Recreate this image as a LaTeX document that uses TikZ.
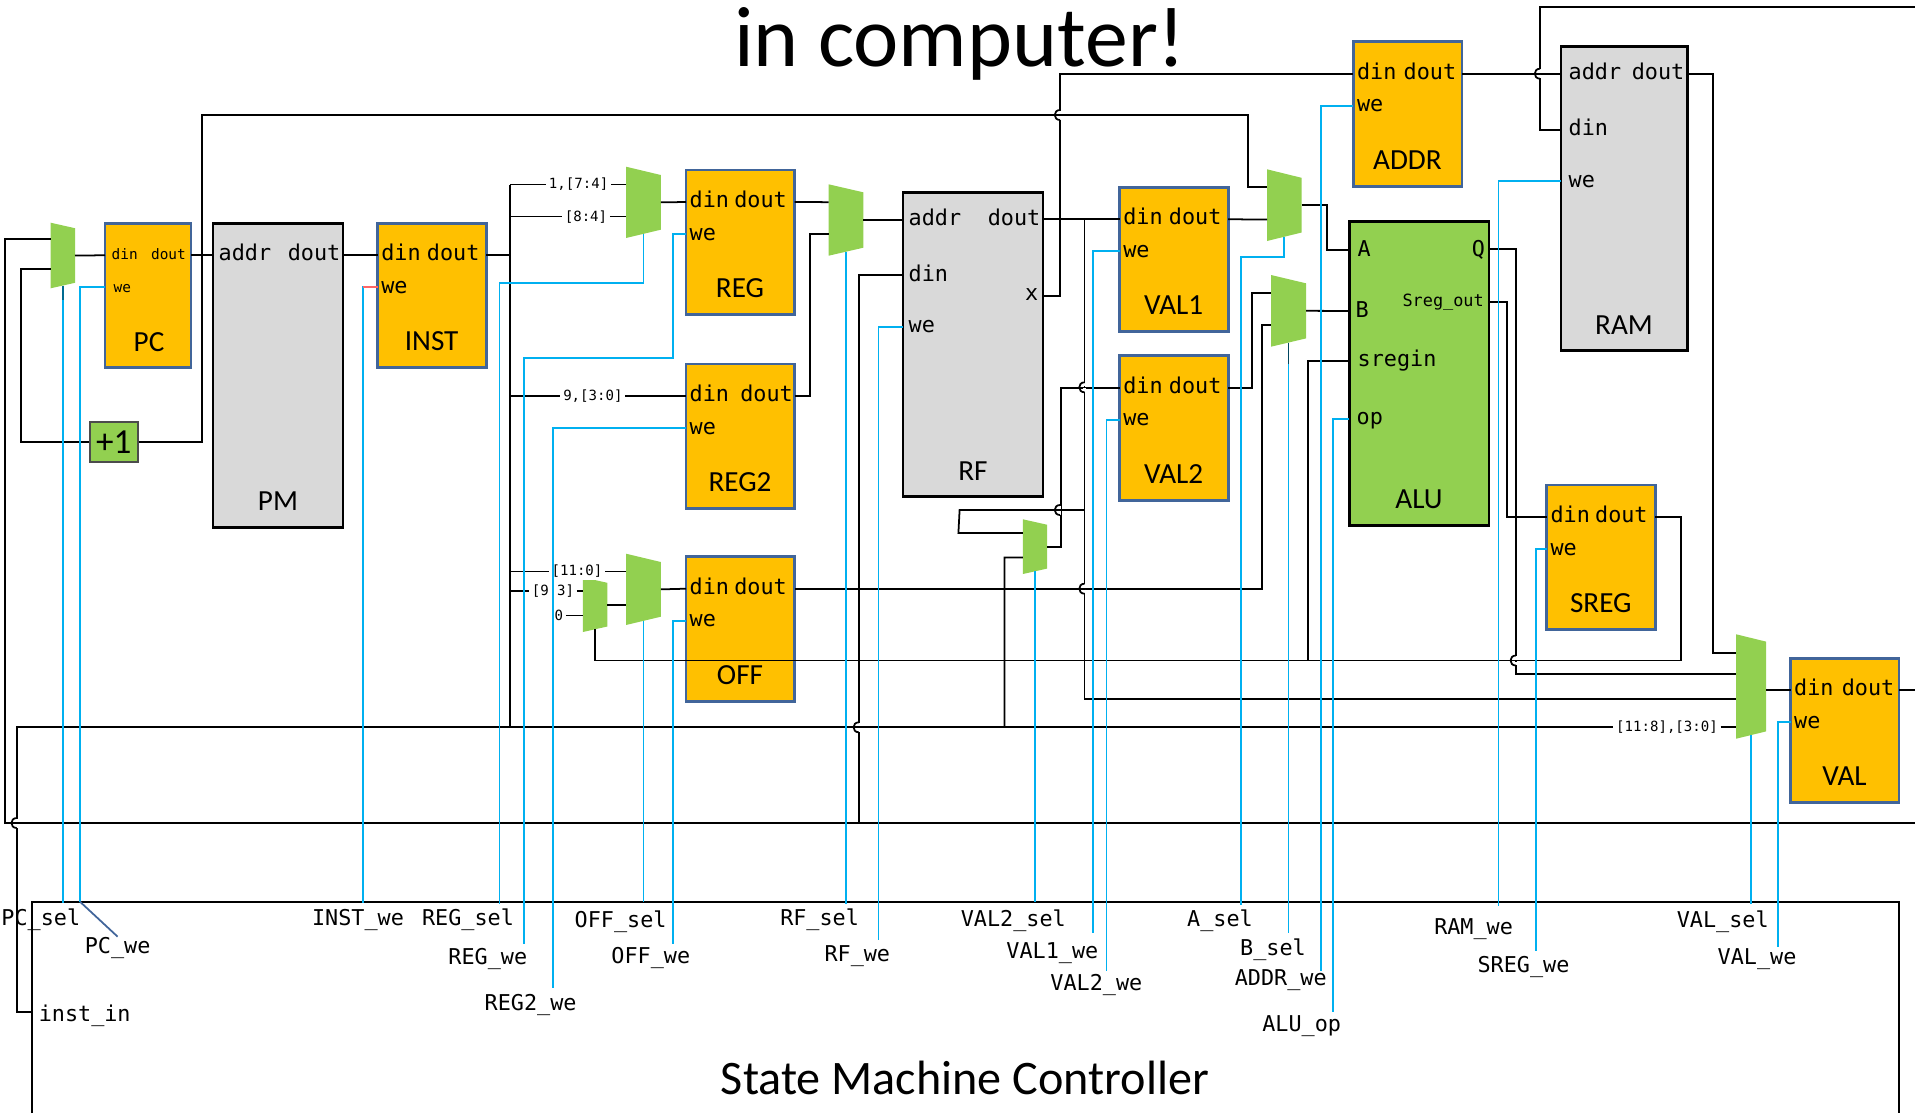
\documentclass[tikz,border=0pt]{standalone}
\usepackage{fontspec}
\setmainfont{Carlito}
\setmonofont{DejaVu Sans Mono}
\definecolor{regfill}{HTML}{FFC000}
\definecolor{regedge}{HTML}{41659A}
\definecolor{muxfill}{HTML}{92D050}
\definecolor{memfill}{HTML}{D9D9D9}
\definecolor{ctrlcyan}{HTML}{00B0F0}
\tikzset{
    wire/.style={black, line width=0.5pt},
    ctrlwire/.style={ctrlcyan, line width=0.5pt},
    regbox/.style={draw=regedge, fill=regfill, line width=0.8pt, anchor=north west,
        inner sep=0, outer sep=0, minimum width=10.85mm, minimum height=14.45mm},
    membox/.style={draw=black, fill=memfill, line width=0.8pt, anchor=north west,
        inner sep=0, outer sep=0, minimum height=30.44mm},
    pintext/.style={inner sep=0, font=\ttfamily\fontsize{6.2}{7}\selectfont},
    smalltext/.style={inner sep=0, font=\ttfamily\fontsize{4.1}{5}\selectfont},
    bittext/.style={fill=white, inner sep=0.6pt, font=\ttfamily\fontsize{4}{5}\selectfont},
    sigtext/.style={inner sep=0, font=\ttfamily\fontsize{6.2}{7}\selectfont},
    boxtitle/.style={inner sep=0, font=\fontsize{8.3}{9}\selectfont},
}
\begin{document}
\begin{tikzpicture}[x=0.1mm, y=-0.1mm]
    \useasboundingbox (0,0) rectangle (1915,1113);

    \node[anchor=base, inner sep=0, font=\fontsize{24.4}{26}\selectfont] (headline) at (960,66) {in computer!};

    % controller outline, its bottom edge is off the page
    \draw[wire] (32.2,1113) -- (32.2,901.7) -- (1898.7,901.7) -- (1898.7,1113);
    \node[anchor=base, inner sep=0, font=\fontsize{13.7}{15}\selectfont] (ctrl) at (965,1094) {State Machine Controller};

    % orange registers: name/left/top/title/dout gap
    \foreach \rname/\rx/\ry/\rtitle/\rgap in {inst/377.6/223.3/INST/6, reg/686/170/REG/7, reg2/686/364/REG2/1,
            off/686/556.7/OFF/7, val1/1119.6/187.3/VAL1/6, val2/1119.6/355.7/VAL2/6,
            addr/1353.4/41.7/ADDR/5, sreg/1546.8/485/SREG/7, val/1790.5/658.3/VAL/4} {
        \node[regbox] (\rname) at (\rx,\ry) {};
        \node[boxtitle] (\rname-title) at ({\rx+54},{\ry+118}) {\rtitle};
        \coordinate (\rname-din) at (\rx,{\ry+32});
        \coordinate (\rname-we) at (\rx,{\ry+64});
        \coordinate (\rname-dout) at ({\rx+108.5},{\ry+32});
        \node[pintext, anchor=base west] (\rname-dinl) at ({\rx+3},{\ry+37.5}) {din};
        \node[pintext, anchor=base west] (\rname-wel) at ({\rx+3},{\ry+70}) {we};
        \node[pintext, anchor=base east] (\rname-doutl) at ({\rx+108.5-\rgap},{\ry+37.5}) {dout};
    }

    % PC is narrower with smaller text
    \node[regbox, minimum width=8.6mm] (pc) at (105,223.3) {};
    \node[boxtitle] (pc-title) at (149,341.7) {PC};
    \coordinate (pc-din) at (105,255.3);
    \coordinate (pc-we) at (105,287.3);
    \coordinate (pc-dout) at (191,255.3);
    \node[smalltext, anchor=base west] (pc-dinl) at (111,259.3) {din};
    \node[smalltext, anchor=base west] (pc-wel) at (113,292) {we};
    \node[smalltext, anchor=base east] (pc-doutl) at (186.5,259.3) {dout};

    % gray memories
    \node[membox, minimum width=13mm] (pm) at (213,223.3) {};
    \node[boxtitle] (pm-title) at (278,501) {PM};
    \coordinate (pm-addr) at (213,255.3);
    \coordinate (pm-dout) at (343,255.3);
    \node[pintext, anchor=base west] (pm-addrl) at (218,260.7) {addr};
    \node[pintext, anchor=base east] (pm-doutl) at (341,260.7) {dout};

    \node[membox, minimum width=14mm] (rf) at (903,192.3) {};
    \node[boxtitle] (rf-title) at (973,471) {RF};
    \coordinate (rf-addr) at (903,220);
    \coordinate (rf-din) at (903,275.3);
    \coordinate (rf-we) at (903,327.3);
    \coordinate (rf-dout) at (1043,219.3);
    \coordinate (rf-x) at (1043,296);
    \node[pintext, anchor=base west] (rf-addrl) at (908,225) {addr};
    \node[pintext, anchor=base west] (rf-dinl) at (908,281) {din};
    \node[pintext, anchor=base west] (rf-wel) at (908,332.5) {we};
    \node[pintext, anchor=base east] (rf-doutl) at (1041,225) {dout};
    \node[pintext, anchor=base east] (rf-xl) at (1039,300.5) {x};

    \node[membox, minimum width=12.67mm] (ram) at (1561,46.3) {};
    \node[boxtitle] (ram-title) at (1624,325) {RAM};
    \coordinate (ram-addr) at (1561,73.7);
    \coordinate (ram-din) at (1561,129.7);
    \coordinate (ram-we) at (1561,181);
    \coordinate (ram-dout) at (1688,74);
    \node[pintext, anchor=base west] (ram-addrl) at (1568,79) {addr};
    \node[pintext, anchor=base west] (ram-dinl) at (1568,135) {din};
    \node[pintext, anchor=base west] (ram-wel) at (1568,187.5) {we};
    \node[pintext, anchor=base east] (ram-doutl) at (1685,79) {dout};

    % ALU
    \node[membox, fill=muxfill, minimum width=13.96mm] (alu) at (1349.4,221.2) {};
    \node[boxtitle] (alu-title) at (1419,499) {ALU};
    \coordinate (alu-a) at (1349.4,250);
    \coordinate (alu-b) at (1349.4,310.9);
    \coordinate (alu-sregin) at (1349.4,361);
    \coordinate (alu-op) at (1349.4,418.7);
    \coordinate (alu-q) at (1489,249);
    \coordinate (alu-sout) at (1489,301.7);
    \node[pintext, anchor=base west] (alu-al) at (1357,256.5) {A};
    \node[pintext, anchor=base west] (alu-bl) at (1355,317.5) {B};
    \node[pintext, anchor=base west] (alu-sl) at (1357,366) {sregin};
    \node[pintext, anchor=base west] (alu-ol) at (1356,424) {op};
    \node[pintext, anchor=base east] (alu-ql) at (1485.7,256.5) {Q};
    \node[anchor=base east, inner sep=0, font=\ttfamily\fontsize{4.8}{6}\selectfont] (alu-sol) at (1484.5,306.5) {Sreg\_out};

    % incrementer
    \node[draw=black!70, fill=muxfill, line width=0.6pt, inner sep=0, minimum width=4.76mm, minimum height=3.97mm,
        font=\fontsize{10}{11}\selectfont] (inc) at (113.8,441.8) {+1};

    % muxes: name/left/right/top/bottom/chamfer
    \foreach \mname/\ml/\mr/\mt/\mb/\mc in {mxpc/50.6/75/222.7/288.3/5.5, mxreg/626/660.8/166.7/238/8.3,
            mxrf/828.6/863.3/184.3/255.7/8, mxa/1267/1301.6/169.3/241/8.5, mxb/1271/1306/275/346.7/8.3,
            mxoff/626/660.8/553.7/625/8.3, mxzero/582.9/607.3/577.3/632/5.5,
            mxvtwo/1022.9/1047/519.3/574/5.4, mxval/1736.2/1766/634.3/738.7/7.3} {
        \fill[muxfill] (\ml,\mt) -- (\mr,{\mt+\mc}) -- (\mr,{\mb-\mc}) -- (\ml,\mb) -- cycle;
        \coordinate (\mname-a) at (\ml,{\mt+0.25*(\mb-\mt)});
        \coordinate (\mname-b) at (\ml,{\mt+0.7*(\mb-\mt)});
        \coordinate (\mname-out) at (\mr,{(\mt+\mb)/2});
        \coordinate (\mname-sel) at ({(\ml+\mr)/2},{\mb-\mc/2});
    }
    \coordinate (mxval-p) at (1736.2,652.7);
    \coordinate (mxval-q) at (1736.2,674);
    \coordinate (mxval-r) at (1736.2,698.7);
    \coordinate (mxval-s) at (1736.2,727.3);

    % bit range labels on the decoded buses
    \node[bittext] (bits74) at (578.6,0 |- mxreg-a) {1,[7:4]};
    \node[bittext] (bits84) at (586,0 |- mxreg-b) {[8:4]};
    \node[bittext] (bits930) at (592.9,0 |- reg2-din) {9,[3:0]};
    \node[bittext] (bits110) at (577,0 |- mxoff-a) {[11:0]};
    \node[bittext] (bits93) at (553,0 |- mxzero-a) {[9:3]};
    \node[bittext] (bits0) at (558.8,0 |- mxzero-b) {0};
    \node[bittext] (bits118) at (1667,0 |- mxval-s) {[11:8],[3:0]};

    % free ends of the wires
    \coordinate (bustop) at (510,0 |- mxreg-a);
    \coordinate (busend) at (510,0 |- mxval-s);
    \coordinate (instin) at (32.2,1012.3);
    \coordinate (instup) at (16.7,1012.3);
    \coordinate (topbend) at (202,115);
    \coordinate (topend) at (1247.8,115);
    \coordinate (topleft) at (1540,6.7);
    \coordinate (topright) at (1915,6.7);
    \coordinate (loopleft) at (5.3,823);
    \coordinate (loopright) at (1915,823);

    % program counter loop
    \draw[wire] (mxpc-out) -- (pc-din);
    \draw[wire] (pc-dout) -- (pm-addr);
    \draw[wire] (pm-dout) -- (inst-din);
    \draw[wire] (mxpc-b) -- ++(-29.6,0) |- (inc.west);
    \draw[wire] (inc.east) -| (topbend) -- (topend) |- (mxa-a);
    \draw[wire] (mxpc-a) -| (loopleft) -- (loopright);
    \draw[wire] (val-dout) -- (val-dout -| loopright);
    \draw[wire] (topright) -- (topleft) |- (ram-din);

    % instruction bus and its taps
    \draw[wire] (inst-dout) -- (inst-dout -| bustop);
    \draw[wire] (bustop) -- (busend);
    \draw[wire] (bustop) -- (bits74) -- (mxreg-a);
    \draw[wire] (bustop |- mxreg-b) -- (bits84) -- (mxreg-b);
    \draw[wire] (bustop |- reg2-din) -- (bits930) -- (reg2-din);
    \draw[wire] (bustop |- mxoff-a) -- (bits110) -- (mxoff-a);
    \draw[wire] (bustop |- mxzero-a) -- (bits93) -- (mxzero-a);
    \draw[wire] (bits0) -- (mxzero-b);
    \draw[wire] (instin) -- (instup) |- (bits118) -- (mxval-s);

    % register file
    \draw[wire] (mxreg-out) -- (reg-din);
    \draw[wire] (reg-dout) -- (mxrf-a);
    \draw[wire] (reg2-dout) -- ++(15.6,0) |- (mxrf-b);
    \draw[wire] (mxrf-out) -- (rf-addr);
    \draw[wire] (rf-din) -| (858.8,823);
    \draw[wire] (rf-x) -- (1060,296) |- (addr-din);
    \draw[wire] (rf-dout) -- (val1-din);
    \draw[wire] (1084.5,219.3) -- (1084.5,698.7) -- (mxval-r);

    % offset and the small muxes
    \draw[wire] (mxzero-out) -- (mxzero-out -| mxoff-b);
    \draw[wire] (mxoff-out) -- (off-din);
    \draw[wire] (off-dout) -- (1262,0 |- off-dout) |- (mxb-b);
    \draw[wire] (mxvtwo-out) -- ++(14,0) |- (val2-din);
    \draw[wire] (1084.5,510) -- (959.6,510) -- (958.4,0 |- mxvtwo-a) -- (mxvtwo-a);
    \draw[wire] (mxvtwo-b) -- ++(-18.4,0) -- (1004.5,0 |- mxval-s);

    % ALU, status register, memory
    \draw[wire] (val1-dout) -- (mxa-b);
    \draw[wire] (mxa-out) -- ++(25.7,0) |- (alu-a);
    \draw[wire] (val2-dout) -- ++(24,0) |- (mxb-a);
    \draw[wire] (mxb-out) -- (alu-b);
    \draw[wire] (alu-q) -- ++(26.8,0) |- (mxval-q);
    \draw[wire] (alu-sout) -- ++(17.8,0) |- (sreg-din);
    \draw[wire] (sreg-dout) -- (1680.7,0 |- sreg-dout) |- (1308,660.5) -| (mxzero-sel);
    \draw[wire] (alu-sregin) -| (1308,660.5);
    \draw[wire] (addr-dout) -- (ram-addr);
    \draw[wire] (ram-dout) -- ++(24.6,0) |- (mxval-p);
    \draw[wire] (mxval-out |- val-din) -- (val-din);

    % wire hops, vertical wire bulges left
    \foreach \hx/\hy in {1060/115, 1084.5/387.3, 1060/510, 1084.5/588.7, 858.8/727.3, 1540/73.7, 1515.8/660.5, 16.7/823} {
        \draw[white, line width=0.8pt] (\hx,{\hy-4.5}) -- (\hx,{\hy-1}) (\hx,{\hy+1}) -- (\hx,{\hy+4.5});
        \draw[wire] (\hx,{\hy-5}) .. controls ({\hx-7},{\hy-5}) and ({\hx-7},{\hy+5}) .. (\hx,{\hy+5});
    }

    % control signal labels: name/x/y/text/end x/end y
    \foreach \sname/\sx/\sy/\stext/\ex/\ey in {pcsel/40.8/920/PC\_sel/62.8/903, pcwe/117.6/948/PC\_we/80/901.7,
            instwe/358/919.7/INST\_we/363/903, regsel/468/919.7/REG\_sel/499.5/904, regwe/487.8/958.7/REG\_we/523.7/944,
            regtwowe/530.6/1004.7/REG2\_we/552.7/987.7, offsel/620.6/922/OFF\_sel/643.4/901.7, offwe/650.8/958/OFF\_we/672.7/944,
            rfsel/819.6/919.7/RF\_sel/845.95/904, rfwe/857.3/956/RF\_we/878.4/940, vtwosel/1013.3/920.3/VAL2\_sel/1034.95/901.7,
            valonewe/1052.4/952.7/VAL1\_we/1093/932.7, valtwowe/1096.4/985/VAL2\_we/1106.6/971, asel/1220/921/A\_sel/1241/905,
            bsel/1273/950/B\_sel/1288.5/932.7, addrwe/1280.7/980.5/ADDR\_we/1321/971, aluop/1301.7/1026/ALU\_op/1333/1012.3,
            ramwe/1473.6/929/RAM\_we/1498.6/906, sregwe/1523.5/966.5/SREG\_we/1535.7/950.7, valsel/1722.7/921.5/VAL\_sel/1751.1/904,
            valwe/1757/959/VAL\_we/1777.6/946.7} {
        \node[sigtext] (\sname) at (\sx,\sy) {\stext};
        \coordinate (\sname-end) at (\ex,\ey);
    }
    \node[sigtext] (instlabel) at (84.7,1015.5) {inst\_in};

    % control signals
    \draw[ctrlwire] (mxpc-sel) -- (pcsel-end);
    \draw[ctrlwire] (pc-we) -| (pcwe-end);
    \draw[ctrlwire] (inst-we) -| (instwe-end);
    \draw[ctrlwire] (mxreg-sel) -- ++(0,49) -| (regsel-end);
    \draw[ctrlwire] (reg-we) -| (672.7,358.3) -| (regwe-end);
    \draw[ctrlwire] (reg2-we) -| (regtwowe-end);
    \draw[ctrlwire] (mxoff-sel) -- (offsel-end);
    \draw[ctrlwire] (off-we) -| (offwe-end);
    \draw[ctrlwire] (mxrf-sel) -- (rfsel-end);
    \draw[ctrlwire] (rf-we) -| (rfwe-end);
    \draw[ctrlwire] (mxvtwo-sel) -- (vtwosel-end);
    \draw[ctrlwire] (val1-we) -| (valonewe-end);
    \draw[ctrlwire] (val2-we) -| (valtwowe-end);
    \draw[ctrlwire] (mxa-sel) -- ++(0,20) -| (asel-end);
    \draw[ctrlwire] (mxb-sel) -- (bsel-end);
    \draw[ctrlwire] (addr-we) -| (addrwe-end);
    \draw[ctrlwire] (alu-op) -| (aluop-end);
    \draw[ctrlwire] (ram-we) -| (ramwe-end);
    \draw[ctrlwire] (sreg-we) -| (sregwe-end);
    \draw[ctrlwire] (mxval-sel) -- (valsel-end);
    \draw[ctrlwire] (val-we) -| (valwe-end);

    % odd coloured stubs on a few of them
    \draw[regedge, line width=0.5pt] (pcwe-end) -- (pcwe.north);
    \draw[ctrlcyan!60!black, line width=0.5pt] (mxpc-sel) -- ++(0,14);
    \draw[ctrlcyan!40!black, line width=0.5pt] (mxb-sel) -- ++(0,21);
    \draw[red!60!white, line width=0.5pt] (inst-we) -- ++(-14.6,0);
\end{tikzpicture}
\end{document}
